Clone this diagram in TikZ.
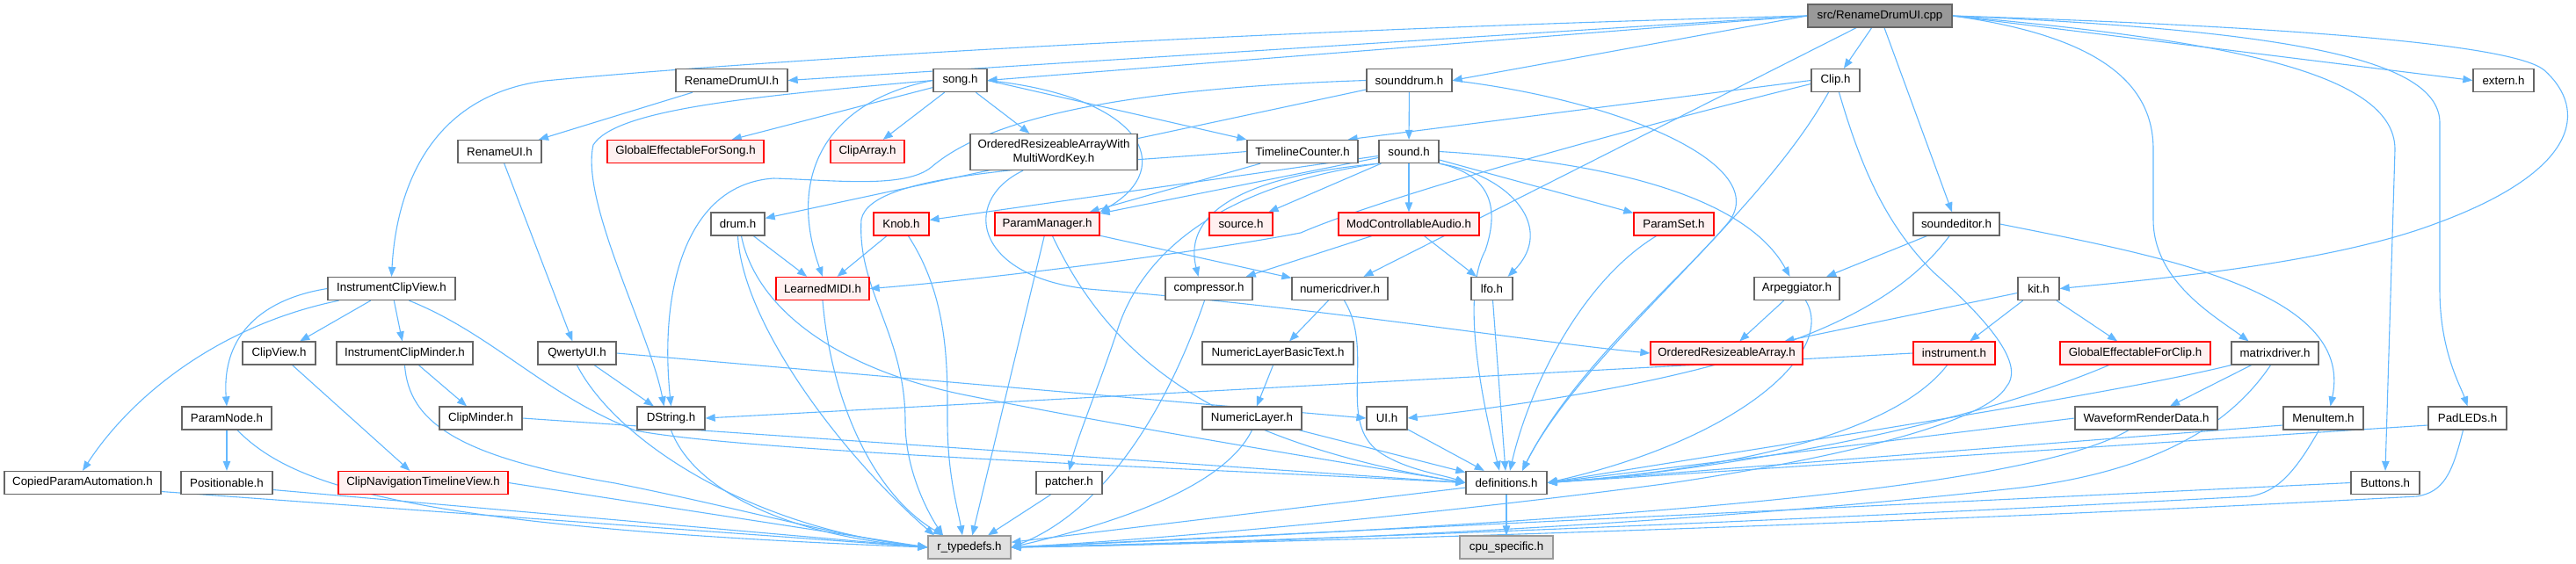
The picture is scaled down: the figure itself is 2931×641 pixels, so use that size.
\documentclass[tikz,border=0pt]{standalone}
\usepackage{fontspec}
\setmainfont{Liberation Sans}
\usepackage{tikz}
\usetikzlibrary{arrows.meta,positioning}
\definecolor{depcolor}{RGB}{99,184,255}
\definecolor{boxline}{RGB}{102,102,102}
\definecolor{sysfill}{RGB}{224,224,224}
\definecolor{sysline}{RGB}{153,153,153}
\definecolor{errfill}{RGB}{255,240,240}
\definecolor{errline}{RGB}{255,0,0}
\definecolor{rootfill}{RGB}{153,153,153}
\pgfdeclarelayer{edges}
\pgfsetlayers{edges,main}
\tikzset{
  hbox/.style={draw=boxline, fill=white, line width=1.3pt, minimum height=26pt,
    inner sep=0pt, font=\fontsize{13.3pt}{15.7pt}\selectfont},
  errbox/.style={hbox, draw=errline, fill=errfill},
  sysbox/.style={hbox, draw=sysline, fill=sysfill},
  rootbox/.style={hbox, fill=rootfill},
  dep/.style={-{Stealth[length=11pt,width=8.5pt,inset=0pt]}, line width=1.1pt, depcolor},
}
\newcommand{\hfile}[5]{%
  \node[#1, minimum width=#2pt] (#3) at #4 {#5};
}

\begin{document}
\begin{tikzpicture}[x=1pt,y=-1pt]
    \useasboundingbox (0,0) rectangle (2931,641);
    % source file
    \hfile{rootbox}{164}{cpp}{(2139,18)}{src/RenameDrumUI.cpp}
    % first level
    \hfile{hbox}{127}{rdui}{(832.5,91.5)}{RenameDrumUI.h}
    \hfile{hbox}{61}{song}{(1092.5,91.5)}{song.h}
    \hfile{hbox}{97}{sounddrum}{(1603.5,91.5)}{sounddrum.h}
    \hfile{hbox}{55}{clip}{(2088.5,91.5)}{Clip.h}
    \hfile{hbox}{69}{extern}{(2848.5,91.5)}{extern.h}
    \hfile{hbox}{95}{renameui}{(568.5,172.5)}{RenameUI.h}
    \hfile{errbox}{178}{gefs}{(780,172.5)}{GlobalEffectableForSong.h}
    \hfile{errbox}{84}{cliparray}{(987,172.5)}{ClipArray.h}
    \node[hbox, minimum width=190pt, minimum height=41pt, align=center] (orawmwk)
      at (1199,173) {OrderedResizeableArrayWith\\MultiWordKey.h};
    \hfile{hbox}{126}{tc}{(1482,172.5)}{TimelineCounter.h}
    \hfile{hbox}{68}{sound}{(1603,172.5)}{sound.h}
    \hfile{hbox}{61}{drum}{(839.5,255)}{drum.h}
    \hfile{errbox}{63}{knob}{(1025.5,255)}{Knob.h}
    \hfile{errbox}{119}{pm}{(1191.5,255)}{ParamManager.h}
    \hfile{errbox}{72}{source}{(1412,255)}{source.h}
    \hfile{errbox}{160}{modca}{(1603,255)}{ModControllableAudio.h}
    \hfile{errbox}{91}{paramset}{(1904.5,255)}{ParamSet.h}
    \hfile{hbox}{98}{soundeditor}{(2226,255)}{soundeditor.h}
    \hfile{hbox}{145}{icv}{(445.5,328.5)}{InstrumentClipView.h}
    \hfile{errbox}{106}{lm}{(936,328.5)}{LearnedMIDI.h}
    \hfile{hbox}{99}{comp}{(1375.5,328.5)}{compressor.h}
    \hfile{hbox}{109}{nd}{(1524.5,328.5)}{numericdriver.h}
    \hfile{hbox}{47}{lfo}{(1697.5,328.5)}{lfo.h}
    \hfile{hbox}{97}{arp}{(2044.5,328.5)}{Arpeggiator.h}
    \hfile{hbox}{47}{kit}{(2319.5,328.5)}{kit.h}
    \hfile{hbox}{83}{clipview}{(317.5,402)}{ClipView.h}
    \hfile{hbox}{155}{icm}{(460.5,402)}{InstrumentClipMinder.h}
    \hfile{hbox}{89}{qwerty}{(656.5,402)}{QwertyUI.h}
    \hfile{hbox}{172}{nlbt}{(1454,402)}{NumericLayerBasicText.h}
    \hfile{errbox}{173}{ora}{(1964.5,402)}{OrderedResizeableArray.h}
    \hfile{errbox}{93}{instrument}{(2223.5,402)}{instrument.h}
    \hfile{errbox}{171}{gefc}{(2429.5,402)}{GlobalEffectableForClip.h}
    \hfile{hbox}{99}{md}{(2588.5,402)}{matrixdriver.h}
    \hfile{hbox}{102}{paramnode}{(258,476)}{ParamNode.h}
    \hfile{hbox}{94}{clipminder}{(547,476)}{ClipMinder.h}
    \hfile{hbox}{77}{dstring}{(763.5,476)}{DString.h}
    \hfile{hbox}{113}{nl}{(1424.5,476)}{NumericLayer.h}
    \hfile{hbox}{46}{ui}{(1578,476)}{UI.h}
    \hfile{hbox}{162}{wrd}{(2442,476)}{WaveformRenderData.h}
    \hfile{hbox}{91}{menuitem}{(2643.5,476)}{MenuItem.h}
    \hfile{hbox}{89}{padleds}{(2807.5,476)}{PadLEDs.h}
    \hfile{hbox}{178}{copiedpa}{(94,549.5)}{CopiedParamAutomation.h}
    \hfile{hbox}{104}{positionable}{(258,549.5)}{Positionable.h}
    \hfile{errbox}{193}{cntv}{(481.5,549.5)}{ClipNavigationTimelineView.h}
    \hfile{hbox}{75}{patcher}{(1216.5,549.5)}{patcher.h}
    \hfile{hbox}{92}{defs}{(1714,549.5)}{definitions.h}
    \hfile{hbox}{78}{buttons}{(2714,549.5)}{Buttons.h}
    % system headers
    \hfile{sysbox}{94}{rtd}{(1103,623)}{r\_typedefs.h}
    \hfile{sysbox}{106}{cpu}{(1714,623)}{cpu\_specific.h}

    \begin{pgfonlayer}{edges}
    % includes of the source file
    \draw[dep] (cpp.west) -- (rdui.east);
    \draw[dep] (cpp.west) -- (song.east);
    \draw[dep] (cpp.west) -- (sounddrum.east);
    \draw[dep] (cpp.west) .. controls (1400,35) and (850,70) .. (620,92)
      .. controls (480,110) and (450,230) .. (icv.north);
    \draw[dep] (cpp) -- (clip);
    \draw[dep] (cpp) -- (soundeditor);
    \draw[dep] (cpp) -- (nd);
    \draw[dep] (cpp.east) -- (extern.west);
    \draw[dep] (cpp.east) .. controls (2600,30) and (2860,50) .. (2895,80)
      .. controls (2945,125) and (2935,195) .. (2770,255)
      .. controls (2650,300) and (2450,318) .. (kit.east);
    \draw[dep] (cpp.east) .. controls (2380,40) and (2450,90) .. (2450,170) -- (2450,250)
      .. controls (2450,320) and (2520,360) .. ([xshift=-30pt]md.north);
    \draw[dep] (cpp.east) .. controls (2520,45) and (2725,80) .. (2725,170) -- (buttons.north);
    \draw[dep] (cpp.east) .. controls (2620,35) and (2776,70) .. (2776,140) -- (2776,330)
      .. controls (2776,400) and (2800,440) .. (padleds.north);
    % ui headers
    \draw[dep] (rdui) -- (renameui);
    \draw[dep] (renameui) -- (qwerty);
    \draw[dep] (qwerty) -- (dstring);
    \draw[dep] (qwerty.east) -- (ui.west);
    \draw[dep] (qwerty.south) .. controls (700,500) and (850,600) .. (rtd.west);
    \draw[dep] (dstring.south) .. controls (790,560) and (900,610) .. (rtd.west);
    % song
    \draw[dep] (song) -- (cliparray);
    \draw[dep] (song) -- (orawmwk);
    \draw[dep] (song) -- (gefs);
    \draw[dep] (song.east) -- (tc.north west);
    \draw[dep] (song.east) .. controls (1300,110) and (1340,190) .. (pm.north east);
    \draw[dep] (song.west) .. controls (940,115) and (895,200) .. (lm.north);
    \draw[dep] (song.west) .. controls (850,110) and (700,125) .. (675,165)
      .. controls (660,230) and (740,380) .. ([xshift=-8pt]dstring.north);
    % sounddrum and sound
    \draw[dep] (sounddrum) -- (sound);
    \draw[dep] (sounddrum) -- (drum);
    \draw[dep] (sounddrum.west) .. controls (1300,100) and (1130,130) .. (1060,190)
      .. controls (1030,215) and (950,205) .. (880,203)
      .. controls (780,210) and (750,330) .. (dstring.north);
    \draw[dep] (sounddrum.east) .. controls (1850,115) and (2020,190) .. (1965,255)
      .. controls (1910,320) and (1790,420) .. ([xshift=18pt]defs.north);
    \draw[dep] (sound) -- (modca);
    \draw[dep] (sound) -- (paramset);
    \draw[dep] (sound.south east) .. controls (1720,200) and (1770,260) .. ([xshift=-6pt]lfo.north east);
    \draw[dep] (sound.south east) .. controls (1700,200) and (1705,240) .. (1690,285)
      .. controls (1660,340) and (1690,470) .. ([xshift=-8pt]defs.north);
    \draw[dep] (sound.east) .. controls (1850,185) and (1990,230) .. ([xshift=-8pt]arp.north);
    \draw[dep] (sound) -- (source);
    \draw[dep] (sound) -- (knob);
    \draw[dep] (sound) -- (pm);
    \draw[dep] (sound.south west) .. controls (1420,200) and (1345,240) .. ([xshift=-12pt]comp.north);
    \draw[dep] (sound.south west) .. controls (1400,210) and (1300,280) .. (1270,380)
      .. controls (1250,440) and (1225,500) .. (patcher.north);
    \draw[dep] (modca) -- (lfo);
    \draw[dep] (modca) -- (comp);
    % params
    \draw[dep] (pm) -- (rtd);
    \draw[dep] ([xshift=6pt]pm.south) .. controls (1260,400) and (1370,500) .. (defs.west);
    \draw[dep] (pm) -- (nd);
    \draw[dep] ([xshift=-35pt]orawmwk.south) .. controls (1090,230) and (1110,320) .. (1250,330)
      .. controls (1500,350) and (1750,390) .. (ora.west);
    \draw[dep] (tc) -- (pm);
    \draw[dep] (tc.west) .. controls (1200,190) and (990,195) .. (980,250)
      .. controls (975,330) and (1030,380) .. (1030,480)
      .. controls (1030,540) and (1060,590) .. ([xshift=-30pt]rtd.north);
    \draw[dep] (knob) -- (lm);
    \draw[dep] ([xshift=8pt]knob.south) .. controls (1080,340) and (1078,420) .. (1078,480)
      .. controls (1078,540) and (1090,580) .. ([xshift=-8pt]rtd.north);
    \draw[dep] (drum) -- (lm);
    \draw[dep] (drum.south) .. controls (845,370) and (960,520) .. ([xshift=-40pt]rtd.north);
    \draw[dep] ([xshift=4pt]drum.south) .. controls (860,350) and (950,420) .. (1100,450)
      .. controls (1300,490) and (1550,530) .. (defs.west);
    \draw[dep] (lm.south) .. controls (945,450) and (990,560) .. ([xshift=-30pt]rtd.north);
    \draw[dep] ([xshift=-5pt]comp.south) .. controls (1330,460) and (1260,580) .. (rtd.east);
    % numeric display
    \draw[dep] (nd) -- (nlbt);
    \draw[dep] ([xshift=5pt]nd.south) .. controls (1565,400) and (1520,480) .. (1570,515)
      .. controls (1600,535) and (1640,540) .. (defs.west);
    \draw[dep] (nlbt) -- (nl);
    \draw[dep] (nl.south) .. controls (1390,560) and (1250,600) .. (rtd.east);
    \draw[dep] (nl) -- (defs);
    \draw[dep] (patcher) -- (rtd);
    \draw[dep] (lfo) -- (defs);
    \draw[dep] ([xshift=-20pt]paramset.south) .. controls (1800,320) and (1740,440) .. ([xshift=4pt]defs.north);
    \draw[dep] (arp) -- (ora);
    \draw[dep] ([xshift=10pt]arp.south) .. controls (2090,400) and (1980,500) .. (defs.east);
    \draw[dep] (soundeditor) -- (arp);
    \draw[dep] ([xshift=-8pt]soundeditor.south) .. controls (2150,360) and (2000,430) .. (ui.east);
    \draw[dep] (soundeditor.east) .. controls (2450,290) and (2680,330) .. ([xshift=8pt]menuitem.north);
    % kit and hardware
    \draw[dep] (kit) -- (ora);
    \draw[dep] (kit) -- (instrument);
    \draw[dep] (kit) -- (gefc);
    \draw[dep] (instrument.west) -- (dstring.east);
    \draw[dep] ([xshift=-8pt]instrument.south) .. controls (2150,500) and (1950,535) .. (defs.east);
    \draw[dep] ([xshift=-30pt]gefc.south) .. controls (2200,500) and (1900,540) .. (defs.east);
    \draw[dep] (md) -- (wrd);
    \draw[dep] (md.south west) .. controls (2400,450) and (2000,510) .. (defs.east);
    \draw[dep] ([xshift=-5pt]md.south) .. controls (2540,480) and (2460,535) .. (2300,555)
      .. controls (1900,600) and (1400,620) .. (rtd.east);
    \draw[dep] (wrd.west) -- (defs.east);
    \draw[dep] ([xshift=-20pt]wrd.south) .. controls (2300,560) and (1800,595) .. (rtd.east);
    \draw[dep] ([yshift=-8pt]menuitem.west) -- (defs.east);
    \draw[dep] ([xshift=-5pt]menuitem.south) .. controls (2610,540) and (2590,560) .. (2560,565)
      .. controls (2100,590) and (1500,615) .. (rtd.east);
    \draw[dep] ([yshift=-8pt]padleds.west) -- (defs.east);
    \draw[dep] ([xshift=-5pt]padleds.south) .. controls (2790,540) and (2780,560) .. (2750,565)
      .. controls (2300,590) and (1600,615) .. (rtd.east);
    \draw[dep] (buttons.west) -- (rtd.east);
    \draw[dep] (ui) -- (defs);
    \draw[dep] (defs) -- (cpu);
    \draw[dep] (defs) -- (rtd);
    % clip
    \draw[dep] (clip.west) -- ([xshift=-12pt]tc.north east);
    \draw[dep] ([yshift=-4pt]clip.west) .. controls (1800,160) and (1560,230) .. (1480,265)
      .. controls (1350,290) and (1100,320) .. (lm.east);
    \draw[dep] ([xshift=-8pt]clip.south) .. controls (2000,250) and (1800,400) .. ([xshift=18pt]defs.north);
    \draw[dep] ([xshift=4pt]clip.south) .. controls (2120,200) and (2150,260) .. (2200,310)
      .. controls (2280,380) and (2300,420) .. (2283,440)
      .. controls (2260,480) and (2100,520) .. (1900,550)
      .. controls (1600,590) and (1300,615) .. (rtd.east);
    % instrument clip view
    \draw[dep] (icv) -- (clipview);
    \draw[dep] (icv) -- (icm);
    \draw[dep] (icv.west) .. controls (300,340) and (252,380) .. (paramnode.north);
    \draw[dep] ([xshift=-60pt]icv.south) .. controls (250,370) and (150,450) .. (copiedpa.north);
    \draw[dep] ([xshift=20pt]icv.south) .. controls (560,380) and (620,450) .. (723,490)
      .. controls (850,515) and (1400,535) .. (defs.west);
    \draw[dep] (icm) -- (clipminder);
    \draw[dep] (icm.south) .. controls (465,480) and (520,520) .. (700,550)
      .. controls (850,580) and (950,610) .. (rtd.west);
    \draw[dep] (clipminder.east) -- (defs.west);
    \draw[dep] (clipview) -- (cntv);
    \draw[dep] (cntv.east) -- (rtd.west);
    \draw[dep] (paramnode) -- (positionable);
    \draw[dep] ([xshift=12pt]paramnode.south) .. controls (330,550) and (450,600) .. (rtd.west);
    \draw[dep] ([yshift=-8pt]positionable.east) -- (rtd.west);
    \draw[dep] ([yshift=-10pt]copiedpa.east) -- (rtd.west);
    \end{pgfonlayer}
  \end{tikzpicture}
\end{document}
